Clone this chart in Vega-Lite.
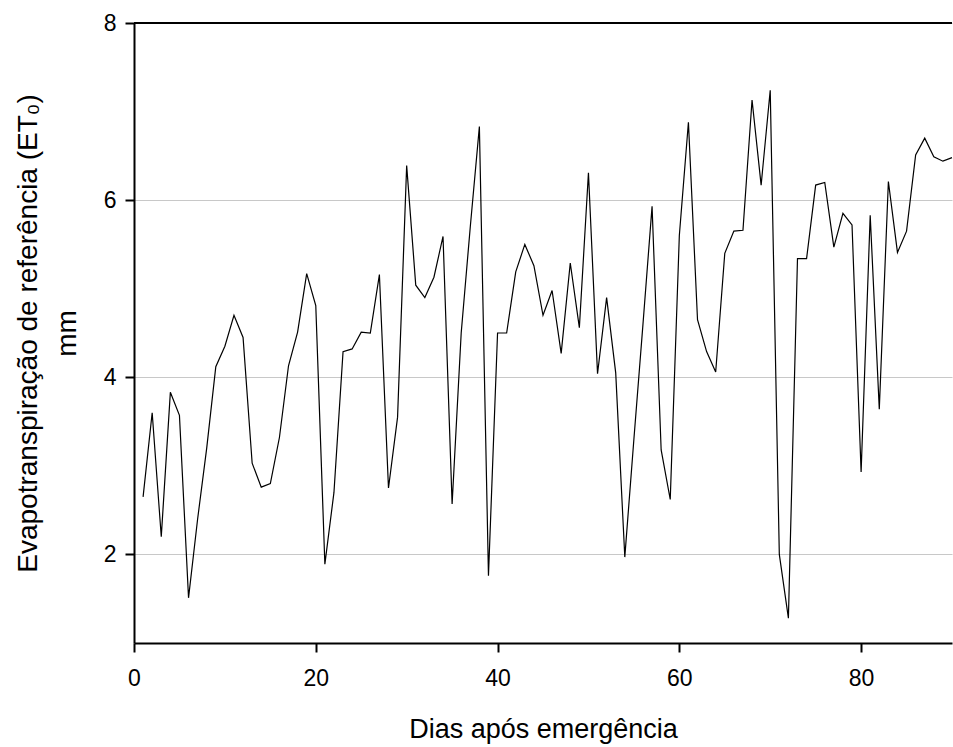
{
  "$schema": "https://vega.github.io/schema/vega-lite/v6.json",
  "width": 818,
  "height": 620,
  "autosize": {"type": "none"},
  "padding": {"left": 134, "top": 23, "right": 1, "bottom": 104},
  "background": "white",
  "config": {"view": {"stroke": null}, "font": "Liberation Sans"},
  "data": {"values": [
    {"dia": 1, "et0": 2.65}, {"dia": 2, "et0": 3.60}, {"dia": 3, "et0": 2.20}, {"dia": 4, "et0": 3.83}, {"dia": 5, "et0": 3.57},
    {"dia": 6, "et0": 1.51}, {"dia": 7, "et0": 2.40}, {"dia": 8, "et0": 3.20}, {"dia": 9, "et0": 4.12}, {"dia": 10, "et0": 4.35},
    {"dia": 11, "et0": 4.70}, {"dia": 12, "et0": 4.45}, {"dia": 13, "et0": 3.03}, {"dia": 14, "et0": 2.76}, {"dia": 15, "et0": 2.80},
    {"dia": 16, "et0": 3.32}, {"dia": 17, "et0": 4.13}, {"dia": 18, "et0": 4.51}, {"dia": 19, "et0": 5.17}, {"dia": 20, "et0": 4.81},
    {"dia": 21, "et0": 1.89}, {"dia": 22, "et0": 2.70}, {"dia": 23, "et0": 4.29}, {"dia": 24, "et0": 4.32}, {"dia": 25, "et0": 4.51},
    {"dia": 26, "et0": 4.50}, {"dia": 27, "et0": 5.16}, {"dia": 28, "et0": 2.75}, {"dia": 29, "et0": 3.55}, {"dia": 30, "et0": 6.39},
    {"dia": 31, "et0": 5.04}, {"dia": 32, "et0": 4.90}, {"dia": 33, "et0": 5.13}, {"dia": 34, "et0": 5.59}, {"dia": 35, "et0": 2.57},
    {"dia": 36, "et0": 4.50}, {"dia": 37, "et0": 5.70}, {"dia": 38, "et0": 6.83}, {"dia": 39, "et0": 1.76}, {"dia": 40, "et0": 4.50},
    {"dia": 41, "et0": 4.50}, {"dia": 42, "et0": 5.19}, {"dia": 43, "et0": 5.50}, {"dia": 44, "et0": 5.26}, {"dia": 45, "et0": 4.70},
    {"dia": 46, "et0": 4.98}, {"dia": 47, "et0": 4.27}, {"dia": 48, "et0": 5.29}, {"dia": 49, "et0": 4.56}, {"dia": 50, "et0": 6.31},
    {"dia": 51, "et0": 4.04}, {"dia": 52, "et0": 4.90}, {"dia": 53, "et0": 4.05}, {"dia": 54, "et0": 1.97}, {"dia": 55, "et0": 3.30},
    {"dia": 56, "et0": 4.60}, {"dia": 57, "et0": 5.93}, {"dia": 58, "et0": 3.18}, {"dia": 59, "et0": 2.62}, {"dia": 60, "et0": 5.60},
    {"dia": 61, "et0": 6.88}, {"dia": 62, "et0": 4.65}, {"dia": 63, "et0": 4.29}, {"dia": 64, "et0": 4.06}, {"dia": 65, "et0": 5.40},
    {"dia": 66, "et0": 5.65}, {"dia": 67, "et0": 5.66}, {"dia": 68, "et0": 7.13}, {"dia": 69, "et0": 6.17}, {"dia": 70, "et0": 7.24},
    {"dia": 71, "et0": 2.00}, {"dia": 72, "et0": 1.28}, {"dia": 73, "et0": 5.34}, {"dia": 74, "et0": 5.34}, {"dia": 75, "et0": 6.17},
    {"dia": 76, "et0": 6.20}, {"dia": 77, "et0": 5.47}, {"dia": 78, "et0": 5.85}, {"dia": 79, "et0": 5.72}, {"dia": 80, "et0": 2.93},
    {"dia": 81, "et0": 5.83}, {"dia": 82, "et0": 3.64}, {"dia": 83, "et0": 6.21}, {"dia": 84, "et0": 5.41}, {"dia": 85, "et0": 5.65},
    {"dia": 86, "et0": 6.51}, {"dia": 87, "et0": 6.70}, {"dia": 88, "et0": 6.49}, {"dia": 89, "et0": 6.44}, {"dia": 90, "et0": 6.48}
  ]},
  "layer": [
    {
      "mark": {"type": "line", "color": "black", "strokeWidth": 1.2},
      "encoding": {
        "x": {
          "field": "dia", "type": "quantitative",
          "scale": {"domain": [0, 90], "nice": false},
          "axis": {
            "values": [0, 20, 40, 60, 80], "format": "d", "title": "Dias após emergência", "grid": false,
            "domainColor": "black", "domainWidth": 2, "tickColor": "black", "tickWidth": 2, "tickSize": 9,
            "labelFontSize": 23, "labelColor": "black", "labelPadding": 15, "labelFlush": false,
            "titleFontSize": 27, "titleFontWeight": "normal", "titleColor": "black", "titlePadding": 26
          }
        },
        "y": {
          "field": "et0", "type": "quantitative",
          "scale": {"domain": [1, 8], "nice": false, "zero": false},
          "axis": {
            "values": [2, 4, 6, 8], "format": "d", "title": ["Evapotranspiração de referência (ET₀)", "mm"], "grid": true,
            "gridColor": "#c8c8c8", "gridWidth": 1,
            "domainColor": "black", "domainWidth": 2, "tickColor": "black", "tickWidth": 2, "tickSize": 9,
            "labelFontSize": 23, "labelColor": "black", "labelPadding": 9, "labelFlush": false,
            "titleFontSize": 28, "titleFontWeight": "normal", "titleColor": "black", "titlePadding": 22, "titleLineHeight": 39
          }
        }
      }
    },
    {
      "mark": {"type": "rule", "color": "black", "strokeWidth": 2},
      "encoding": {"y": {"datum": 8}}
    }
  ]
}
